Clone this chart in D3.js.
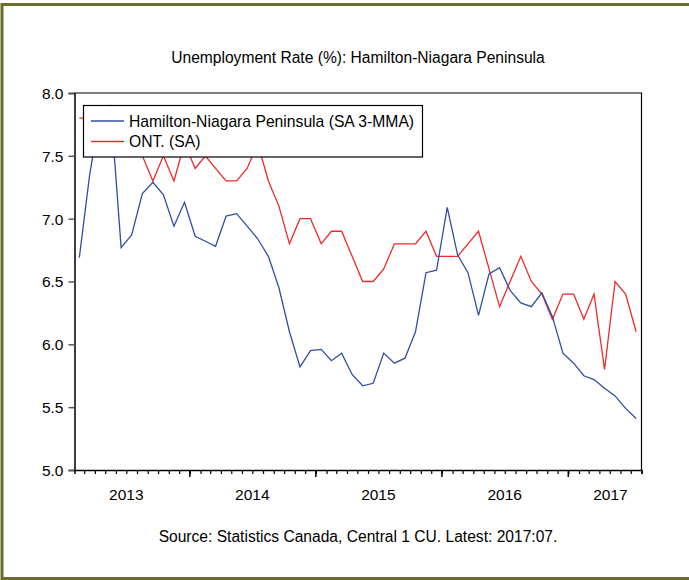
<!DOCTYPE html>
<html><head><meta charset="utf-8">
<script src="https://cdn.jsdelivr.net/npm/d3@7"></script>
<style>body{margin:0;background:#fff;} svg{display:block;} text{font-family:"Liberation Sans",Arial,sans-serif;fill:#000;}</style>
</head><body>
<script>
// ---- data ----
const startMonth = "2013-02";
const endMonth = "2017-07";
const hamilton = [6.69,7.34,7.85,7.9,6.77,6.87,7.20,7.29,7.19,6.94,7.13,6.86,6.82,6.78,7.02,7.04,6.94,6.84,6.70,6.45,6.10,5.82,5.95,5.96,5.87,5.93,5.76,5.67,5.69,5.93,5.85,5.89,6.10,6.57,6.59,7.09,6.71,6.57,6.23,6.56,6.61,6.43,6.33,6.30,6.41,6.22,5.93,5.85,5.75,5.72,5.65,5.59,5.49,5.41];
const ontario = [7.8,7.8,7.7,7.6,7.7,7.6,7.5,7.3,7.5,7.3,7.6,7.4,7.5,7.4,7.3,7.3,7.4,7.6,7.3,7.1,6.8,7.0,7.0,6.8,6.9,6.9,6.7,6.5,6.5,6.6,6.8,6.8,6.8,6.9,6.7,6.7,6.7,6.8,6.9,6.6,6.3,6.5,6.7,6.5,6.4,6.2,6.4,6.4,6.2,6.4,5.8,6.5,6.4,6.1];
const seriesNames = ["Hamilton-Niagara Peninsula (SA 3-MMA)", "ONT. (SA)"];
const yTicks = [5.0,5.5,6.0,6.5,7.0,7.5,8.0];
const yearLabels = ["2013","2014","2015","2016","2017"];
const titleText = "Unemployment Rate (%): Hamilton-Niagara Peninsula";
const sourceText = "Source: Statistics Canada, Central 1 CU. Latest: 2017:07.";

// ---- layout ----
const W = 689, H = 580;
const L = 74.5, R = 641.5, T = 93, B = 470;
const blue = "#2f4fa6", red = "#f02828";

const svg = d3.select("body").append("svg").attr("width", W).attr("height", H);

// outer border
svg.append("rect").attr("x",2).attr("y",4.5).attr("width",W+5).attr("height",574)
  .attr("fill","none").attr("stroke","#6b6d2e").attr("stroke-width",3);

const parseM = d3.timeParse("%Y-%m");
const d0 = parseM(startMonth), dEnd = d3.timeMonth.offset(parseM(endMonth), 1);
const months = d3.timeMonth.range(d0, dEnd);
const x = d3.scaleTime().domain([d0, dEnd]).range([L, R]);
const xMid = d => (x(d) + x(d3.timeMonth.offset(d, 1))) / 2;
const y = d3.scaleLinear().domain([5, 8]).range([B, T]);

// frame (top, right)
svg.append("path").attr("d", `M${L},${T}H${R}V${B}`).attr("fill","none").attr("stroke","#000").attr("stroke-width",1.2);

// y axis
const yAxis = d3.axisLeft(y).tickValues(yTicks).tickFormat(d3.format(".1f")).tickSize(6).tickPadding(5);
const gy = svg.append("g").attr("transform", `translate(${L},0)`).call(yAxis);
gy.select(".domain").attr("stroke","#000").attr("stroke-width",1.5);
gy.selectAll(".tick line").attr("stroke","#555").attr("stroke-width",1.5);
gy.selectAll("text").style("font-size","15.5px").attr("dy","0.35em");

// x axis minor/major ticks
const gx = svg.append("g").attr("transform", `translate(0,${B})`);
const minorAxis = d3.axisBottom(x).tickValues(d3.timeMonth.range(d3.timeMonth.offset(d0,1), d3.timeMonth.offset(dEnd,1))).tickSize(4).tickFormat("");
gx.call(minorAxis);
gx.select(".domain").attr("stroke","#000").attr("stroke-width",1.5);
gx.selectAll(".tick line").attr("stroke","#000").attr("stroke-width",1.2);
const years = d3.timeYear.range(d3.timeYear.ceil(d0), dEnd);
gx.append("g").selectAll("line").data(years).join("line")
  .attr("x1", d => x(d)).attr("x2", d => x(d)).attr("y1", 0).attr("y2", 7)
  .attr("stroke","#000").attr("stroke-width",1.5);
gx.append("g").selectAll("text").data(yearLabels).join("text")
  .attr("x", (d) => {
    const mid = x(new Date(+d, 6, 1));
    return Math.min(mid, R - 31);
  })
  .attr("y", 30).attr("text-anchor","middle").style("font-size","15.5px").text(d => d);

// lines
const line = d3.line().x((d,i) => xMid(months[i])).y(d => y(d));
svg.append("path").datum(ontario).attr("d", line).attr("fill","none").attr("stroke",red).attr("stroke-width",1.3);
svg.append("path").datum(hamilton).attr("d", line).attr("fill","none").attr("stroke",blue).attr("stroke-width",1.3);

// legend
const lg = svg.append("g");
lg.append("rect").attr("x",83.5).attr("y",105.5).attr("width",339).attr("height",51.5)
  .attr("fill","#fff").attr("stroke","#000").attr("stroke-width",1.2);
[blue, red].forEach((c, i) => {
  const yy = 121 + i*20.5;
  lg.append("line").attr("x1",91).attr("x2",124).attr("y1",yy).attr("y2",yy).attr("stroke",c).attr("stroke-width",1.3);
  lg.append("text").attr("x",129).attr("y",yy).attr("dy","0.36em").style("font-size","15.7px").text(seriesNames[i]);
});

// title & source
svg.append("text").attr("x",358).attr("y",63).attr("text-anchor","middle").style("font-size","15.6px").text(titleText);
svg.append("text").attr("x",358).attr("y",542).attr("text-anchor","middle").style("font-size","15.6px").text(sourceText);
</script>
</body></html>
